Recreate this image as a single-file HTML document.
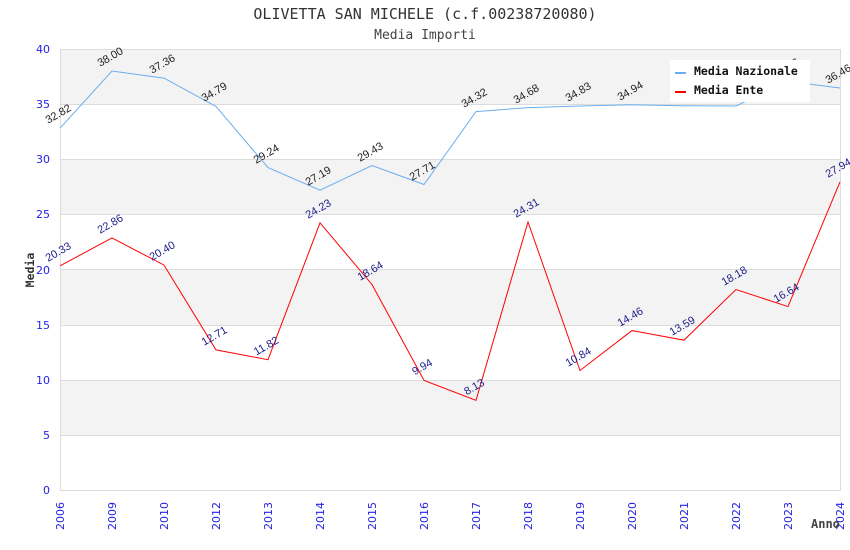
<!DOCTYPE html>
<html><head><meta charset="utf-8"><style>
html,body{margin:0;padding:0;background:#fff;}
svg{display:block;}
</style></head><body>
<svg width="850" height="550" viewBox="0 0 850 550" xmlns="http://www.w3.org/2000/svg">
<rect x="0" y="0" width="850" height="550" fill="#fff"/>
<text x="425" y="19" text-anchor="middle" font-family="DejaVu Sans Mono, Liberation Mono, monospace" font-size="15" fill="#333">OLIVETTA SAN MICHELE (c.f.00238720080)</text>
<text x="425" y="39" text-anchor="middle" font-family="DejaVu Sans Mono, Liberation Mono, monospace" font-size="13" fill="#444">Media Importi</text>
<g fill="#f3f3f3">
<rect x="60" y="49" width="780" height="55"/>
<rect x="60" y="159" width="780" height="55"/>
<rect x="60" y="270" width="780" height="55"/>
<rect x="60" y="380" width="780" height="55"/>
</g>
<g stroke="#dcdcdc" stroke-width="1">
<line x1="60" y1="49.5" x2="840" y2="49.5"/>
<line x1="60" y1="104.5" x2="840" y2="104.5"/>
<line x1="60" y1="159.5" x2="840" y2="159.5"/>
<line x1="60" y1="214.5" x2="840" y2="214.5"/>
<line x1="60" y1="269.5" x2="840" y2="269.5"/>
<line x1="60" y1="325.5" x2="840" y2="325.5"/>
<line x1="60" y1="380.5" x2="840" y2="380.5"/>
<line x1="60" y1="435.5" x2="840" y2="435.5"/>
<line x1="60" y1="490.5" x2="840" y2="490.5"/>
<line x1="60.5" y1="49" x2="60.5" y2="491"/>
<line x1="840.5" y1="49" x2="840.5" y2="491"/>
</g>
<g font-family="DejaVu Sans, Liberation Sans, sans-serif" font-size="11" fill="#2323e6" text-anchor="end">
<text x="50" y="53">40</text>
<text x="50" y="108">35</text>
<text x="50" y="163">30</text>
<text x="50" y="218">25</text>
<text x="50" y="274">20</text>
<text x="50" y="329">15</text>
<text x="50" y="384">10</text>
<text x="50" y="439">5</text>
<text x="50" y="494">0</text>
</g>
<g font-family="DejaVu Sans, Liberation Sans, sans-serif" font-size="11" fill="#2323e6" text-anchor="end">
<text transform="translate(64,502) rotate(-90)">2006</text>
<text transform="translate(116,502) rotate(-90)">2009</text>
<text transform="translate(168,502) rotate(-90)">2010</text>
<text transform="translate(220,502) rotate(-90)">2012</text>
<text transform="translate(272,502) rotate(-90)">2013</text>
<text transform="translate(324,502) rotate(-90)">2014</text>
<text transform="translate(376,502) rotate(-90)">2015</text>
<text transform="translate(428,502) rotate(-90)">2016</text>
<text transform="translate(480,502) rotate(-90)">2017</text>
<text transform="translate(532,502) rotate(-90)">2018</text>
<text transform="translate(584,502) rotate(-90)">2019</text>
<text transform="translate(636,502) rotate(-90)">2020</text>
<text transform="translate(688,502) rotate(-90)">2021</text>
<text transform="translate(740,502) rotate(-90)">2022</text>
<text transform="translate(792,502) rotate(-90)">2023</text>
<text transform="translate(844,502) rotate(-90)">2024</text>
</g>
<text transform="translate(34,270) rotate(-90)" text-anchor="middle" font-family="DejaVu Sans Mono, Liberation Mono, monospace" font-weight="bold" font-size="11.5" fill="#333">Media</text>
<text x="811" y="528" font-family="DejaVu Sans Mono, Liberation Mono, monospace" font-weight="bold" font-size="12" fill="#444">Anno</text>
<polyline fill="none" stroke="#6aaef0" stroke-width="1" points="60,128.16 112,71.05 164,78.11 216,106.44 268,167.63 320,190.23 372,165.53 424,184.5 476,111.62 528,107.66 580,106 632,104.79 684,105.78 736,106 788,81.41 840,88.03"/>
<polyline fill="none" stroke="#ff0000" stroke-width="1" points="60,265.86 112,237.97 164,265.09 216,349.87 268,359.68 320,222.86 372,284.49 424,380.41 476,400.37 528,221.98 580,370.49 632,330.58 684,340.17 736,289.57 788,306.54 840,181.96"/>
<g font-family="Liberation Sans, DejaVu Sans, sans-serif" font-size="11" fill="#222" text-anchor="middle">
<text transform="translate(60,117) rotate(-30)">32.82</text>
<text transform="translate(112,60) rotate(-30)">38.00</text>
<text transform="translate(164,67) rotate(-30)">37.36</text>
<text transform="translate(216,95) rotate(-30)">34.79</text>
<text transform="translate(268,157) rotate(-30)">29.24</text>
<text transform="translate(320,179) rotate(-30)">27.19</text>
<text transform="translate(372,155) rotate(-30)">29.43</text>
<text transform="translate(424,174) rotate(-30)">27.71</text>
<text transform="translate(476,101) rotate(-30)">34.32</text>
<text transform="translate(528,97) rotate(-30)">34.68</text>
<text transform="translate(580,95) rotate(-30)">34.83</text>
<text transform="translate(632,94) rotate(-30)">34.94</text>
<text transform="translate(788,71) rotate(-30)">37.06</text>
<text transform="translate(840,77) rotate(-30)">36.46</text>
</g>
<g font-family="Liberation Sans, DejaVu Sans, sans-serif" font-size="11" fill="#1c1c8a" text-anchor="middle">
<text transform="translate(60,255) rotate(-30)">20.33</text>
<text transform="translate(112,227) rotate(-30)">22.86</text>
<text transform="translate(164,254) rotate(-30)">20.40</text>
<text transform="translate(216,339) rotate(-30)">12.71</text>
<text transform="translate(268,349) rotate(-30)">11.82</text>
<text transform="translate(320,212) rotate(-30)">24.23</text>
<text transform="translate(372,274) rotate(-30)">18.64</text>
<text transform="translate(424,370) rotate(-30)">9.94</text>
<text transform="translate(476,390) rotate(-30)">8.13</text>
<text transform="translate(528,211) rotate(-30)">24.31</text>
<text transform="translate(580,360) rotate(-30)">10.84</text>
<text transform="translate(632,320) rotate(-30)">14.46</text>
<text transform="translate(684,329) rotate(-30)">13.59</text>
<text transform="translate(736,279) rotate(-30)">18.18</text>
<text transform="translate(788,296) rotate(-30)">16.64</text>
<text transform="translate(840,171) rotate(-30)">27.94</text>
</g>
<rect x="670" y="60" width="140" height="42" fill="#fff"/>
<rect x="675" y="72" width="11" height="2" fill="#6aaef0"/>
<rect x="675" y="91" width="11" height="2" fill="#ff0000"/>
<g font-family="DejaVu Sans Mono, Liberation Mono, monospace" font-weight="bold" font-size="11.5" fill="#111">
<text x="694" y="75">Media Nazionale</text>
<text x="694" y="94">Media Ente</text>
</g>
</svg>
</body></html>
